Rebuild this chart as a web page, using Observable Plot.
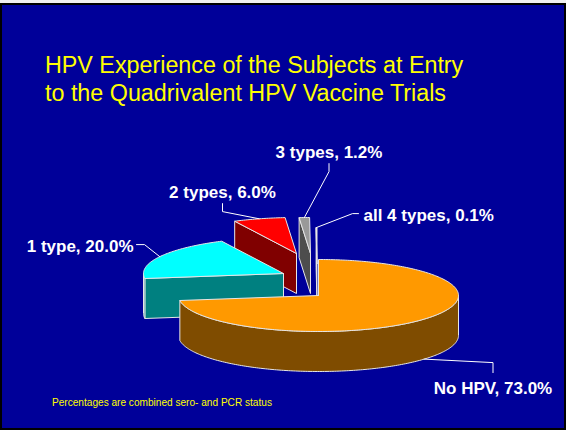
<!DOCTYPE html>
<html><head><meta charset="utf-8">
<script src="https://cdn.jsdelivr.net/npm/d3@7"></script>
<script src="https://cdn.jsdelivr.net/npm/@observablehq/plot@0.6"></script>
<style>
html,body{margin:0;padding:0;}
body{background:#F0F0F0;width:566px;height:430px;overflow:hidden;position:relative;}
#frame{position:absolute;left:0;top:3px;width:566px;height:427px;box-sizing:border-box;background:#000099;border:2px solid #000;}
#title{position:absolute;left:45px;top:50.5px;margin:0;font:normal 23.3px/28px "Liberation Sans",Arial,sans-serif;color:#FFFF00;white-space:nowrap;}
#chart{position:absolute;left:0;top:0;}
#note{position:absolute;left:52px;top:396.5px;font:10.1px/12px "Liberation Sans",Arial,sans-serif;color:#FFFF00;white-space:nowrap;}
</style>
</head><body>
<div id="frame"></div>
<h1 id="title">HPV Experience of the Subjects at Entry<br>to the Quadrivalent HPV Vaccine Trials</h1>
<div id="chart"></div>
<div id="note">Percentages are combined sero- and PCR status</div>
<script>
// ---- data ----
const categories = ["No HPV", "1 type", "2 types", "3 types", "all 4 types"];
const values = [73.0, 20.0, 6.0, 1.2, 0.1];

// ---- styles / layout ----
const topColors = {"No HPV": "#FF9900", "1 type": "#00FFFF", "2 types": "#FF0000", "3 types": "#999999", "all 4 types": "#FFFFFF"};
const sideColors = {"No HPV": "#7F4C00", "1 type": "#008080", "2 types": "#800000", "3 types": "#4D4D4D", "all 4 types": "#FFFFFF"};
const pie = {cx: 318, cy: 295, rx: 140, ry: 36, depth: 40, stepDeg: 1};
const explode = {"No HPV": [0, 0], "1 type": [-35, -22], "2 types": [-22, -42], "3 types": [-8, -42], "all 4 types": [-1.5, -32]};
const labelLayout = {
  "No HPV":      {x: 492.5, y: 387.6, anchor: "middle", side: "above"},
  "1 type":      {x: 133,   y: 245.6, anchor: "end",    side: "right"},
  "2 types":     {x: 222,   y: 191.6, anchor: "middle", side: "below"},
  "3 types":     {x: 328.5, y: 151.6, anchor: "middle", side: "below"},
  "all 4 types": {x: 363,   y: 214.6, anchor: "start",  side: "left"}
};
const edgeColor = "#E6E6E6";

// ---- geometry ----
const total = d3.sum(values);
let acc = 0;
const slices = categories.map((c, i) => {
  const a0 = acc / total * 2 * Math.PI;
  acc += values[i];
  const a1 = acc / total * 2 * Math.PI;
  const [ex, ey] = explode[c];
  return {cat: c, value: values[i], a0, a1, ax: pie.cx + ex, ay: pie.cy + ey};
});
function P(s, th, dz = 0) {
  return [s.ax + pie.rx * Math.sin(th), s.ay - pie.ry * Math.cos(th) + dz];
}
function arc(s, lo, hi, dz) {
  const step = pie.stepDeg * Math.PI / 180;
  const n = Math.max(2, Math.ceil((hi - lo) / step) + 1);
  return d3.range(n).map(k => P(s, lo + (hi - lo) * k / (n - 1), dz));
}
const faceRows = [];
let fid = 0;
function addFace(pts, fill) {
  const id = fid++;
  pts.concat([pts[0]]).forEach(([x, y]) => faceRows.push({face: id, x, y, fill}));
}
// paint from back to front
[...slices].reverse().forEach(s => {
  const D = pie.depth;
  const apex = [s.ax, s.ay], apexB = [s.ax, s.ay + D];
  if (Math.sin(s.a0) < -1e-9) {
    const p = P(s, s.a0), pb = P(s, s.a0, D);
    addFace([apex, p, pb, apexB], sideColors[s.cat]);
  }
  if (Math.sin(s.a1) > 1e-9) {
    const p = P(s, s.a1), pb = P(s, s.a1, D);
    addFace([apex, p, pb, apexB], sideColors[s.cat]);
  }
  const lo = Math.max(s.a0, Math.PI / 2), hi = Math.min(s.a1, 3 * Math.PI / 2);
  if (hi > lo) {
    addFace(arc(s, lo, hi, 0).concat(arc(s, lo, hi, D).reverse()), sideColors[s.cat]);
  }
  addFace([apex].concat(arc(s, s.a0, s.a1, 0)), topColors[s.cat]);
});

// labels and leaders
const labelRows = slices.map(s => ({...labelLayout[s.cat], text: `${s.cat}, ${s.value.toFixed(1)}%`}));
const leaderRows = [];
slices.forEach((s, i) => {
  const L = labelLayout[s.cat];
  const mid = (s.a0 + s.a1) / 2;
  const end = P(s, mid, Math.cos(mid) < 0 ? pie.depth : 0);
  let start, elbow;
  if (L.side === "above") { start = [L.x, L.y - 15.5]; elbow = [L.x, L.y - 25.5]; }
  else if (L.side === "below") { start = [L.x, L.y + 11.5]; elbow = [L.x, L.y + 19.5]; }
  else if (L.side === "right") { start = [L.x + 3, L.y - 1.5]; elbow = [L.x + 11, L.y - 1.5]; }
  else { start = [L.x - 5, L.y - 1.5]; elbow = [L.x - 11, L.y - 1.5]; }
  [start, elbow, end].forEach(([x, y]) => leaderRows.push({cat: s.cat, x, y}));
});

const textStyle = {x: "x", y: "y", text: "text", fill: "#FFFFFF", fontSize: 17, fontWeight: "bold", fontFamily: "'Liberation Sans', Arial, sans-serif"};
const chart = Plot.plot({
  width: 566, height: 430, margin: 0,
  x: {domain: [0, 566], range: [0, 566], axis: null},
  y: {domain: [0, 430], range: [0, 430], axis: null},
  color: {type: "identity"},
  style: {background: "transparent", overflow: "visible"},
  marks: [
    Plot.line(faceRows, {x: "x", y: "y", z: "face", fill: "fill", stroke: edgeColor, strokeWidth: 1, strokeLinejoin: "round"}),
    Plot.line(leaderRows, {x: "x", y: "y", z: "cat", stroke: "#FFFFFF", strokeWidth: 1}),
    ...["start", "middle", "end"].map(a =>
      Plot.text(labelRows.filter(d => d.anchor === a), {...textStyle, textAnchor: a}))
  ]
});
document.getElementById("chart").appendChild(chart);
</script>
</body></html>
